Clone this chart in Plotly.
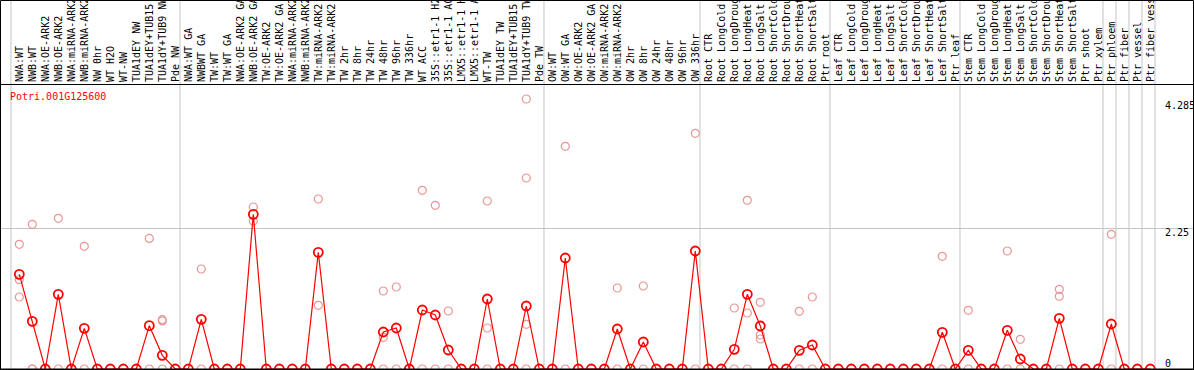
import plotly.graph_objects as go

# ---------------- data ----------------
categories = [
    "NWA:WT", "NWB:WT", "NWA:OE-ARK2", "NWB:OE-ARK2", "NWA:miRNA-ARK2", "NWB:miRNA-ARK2",
    "NW 0hr", "WT H2O", "WT-NW", "TUA1dEY NW", "TUA1dEY+TUB15", "TUA1dY+TUB9 NW", "Pde NW",
    "NWA:WT GA", "NWBWT GA", "TW:WT", "TW:WT GA", "NWA:OE-ARK2 GA", "NWB:OE-ARK2 GA",
    "TW:OE-ARK2", "TW:OE-ARK2 GA", "NWA:miRNA-ARK2", "NWB:miRNA-ARK2", "TW:miRNA-ARK2",
    "TW:miRNA-ARK2", "TW 2hr", "TW 8hr", "TW 24hr", "TW 48hr", "TW 96hr", "TW 336hr", "WT ACC",
    "35S::etr1-1 H2O", "35S::etr1-1 ACC", "LMX5::etr1-1 H2O", "LMX5::etr1-1 ACC", "WT-TW",
    "TUA1dEY TW", "TUA1dEY+TUB15 TW", "TUA1dY+TUB9 TW", "Pde TW",
    "OW:WT", "OW:WT GA", "OW:OE-ARK2", "OW:OE-ARK2 GA", "OW:miRNA-ARK2", "OW:miRNA-ARK2",
    "OW 2hr", "OW 8hr", "OW 24hr", "OW 48hr", "OW 96hr", "OW 336hr",
    "Root CTR", "Root LongCold", "Root LongDrought", "Root LongHeat", "Root LongSalt",
    "Root ShortCold", "Root ShortDrought", "Root ShortHeat", "Root ShortSalt", "Ptr root",
    "Leaf CTR", "Leaf LongCold", "Leaf LongDrought", "Leaf LongHeat", "Leaf LongSalt",
    "Leaf ShortCold", "Leaf ShortDrought", "Leaf ShortHeat", "Leaf ShortSalt", "Ptr leaf",
    "Stem CTR", "Stem LongCold", "Stem LongDrought", "Stem LongHeat", "Stem LongSalt",
    "Stem ShortCold", "Stem ShortDrought", "Stem ShortHeat", "Stem ShortSalt", "Ptr shoot",
    "Ptr xylem", "Ptr phloem", "Ptr fiber", "Ptr vessel", "Ptr fiber vessel",
]

means = [
    1.515, 0.763, 0, 1.195, 0, 0.651, 0, 0, 0, 0, 0.693, 0.219, 0,
    0, 0.795, 0, 0, 0, 2.475, 0, 0, 0, 0, 1.867, 0, 0, 0, 0, 0.592, 0.656, 0,
    0.944, 0.864, 0.304, 0, 0, 1.12, 0, 0, 1.008, 0,
    0, 1.776, 0, 0, 0, 0.64, 0, 0.432, 0, 0, 0, 1.888,
    0, 0, 0.315, 1.195, 0.688, 0, 0, 0.299, 0.384, 0,
    0, 0, 0, 0, 0, 0, 0, 0, 0.587, 0,
    0.299, 0, 0, 0.619, 0.16, 0, 0, 0.811, 0, 0, 0,
    0.72, 0, 0, 0,
]

replicates = [
    [1.995, 1.43, 1.152], [2.315, 0, 0], [], [2.41, 0], [], [1.963, 0], [], [], [], [],
    [2.09, 0], [0.79, 0.77, 0], [],
    [], [1.6, 0], [], [], [], [2.592, 2.368], [], [], [], [], [2.72, 1.019], [], [], [], [],
    [1.248, 0.507, 0], [1.312, 0], [], [2.859, 0], [2.619, 0], [0.928, 0], [], [],
    [2.688, 0.656, 0], [], [], [4.32, 3.056, 0.715, 0], [],
    [], [3.563, 0], [], [], [], [1.296, 0], [], [1.328, 0], [], [], [], [3.771, 0],
    [], [], [0.976, 0], [2.699, 0.896, 0], [1.067, 0.544, 0.48], [], [], [0.923, 0],
    [1.152, 0], [],
    [], [], [], [], [], [], [], [], [1.803, 0], [],
    [0.939, 0], [], [], [1.888, 0], [0.475, 0], [], [], [1.275, 1.163, 0], [], [], [],
    [2.155, 0], [], [], [],
]

group_starts = [0, 13, 41, 53, 63, 73, 84, 85, 86, 87, 88]
gene_id = "Potri.001G125600"
y_labels = [4.285, 2.25, 0]

# ---------------- layout geometry ----------------
W, H = 1194, 370
HEADER = 85
MB, ML, MR = 1, 1, 1
plot_h = H - HEADER - MB
plot_w = W - ML - MR
px_per_unit = 62.5
col_px = 13.0
first_px = 19.3
x_lo = (ML - first_px) / col_px
x_hi = x_lo + plot_w / col_px
y_hi = plot_h / px_per_unit
header_top = 1 + (HEADER - 0.5) / plot_h

idx = list(range(len(categories)))
rep_x = [i for i, reps in enumerate(replicates) for _ in reps]
rep_y = [v for reps in replicates for v in reps]

mono = "DejaVu Sans Mono"
fig = go.Figure()
fig.add_trace(go.Scatter(
    x=rep_x, y=rep_y, mode="markers", cliponaxis=False, hoverinfo="skip",
    marker=dict(symbol="circle-open", size=8, color="rgb(236,150,150)", line=dict(width=1.2)),
))
fig.add_trace(go.Scatter(
    x=idx, y=means, mode="lines+markers", cliponaxis=False,
    line=dict(color="#ff0000", width=1.2),
    marker=dict(symbol="circle-open", size=9, color="#ff0000", line=dict(width=1.8)),
))

shapes = []
for k in group_starts:
    shapes.append(dict(type="line", xref="x", yref="paper", x0=k - 0.64, x1=k - 0.64,
                       y0=0, y1=header_top, line=dict(color="#c4c4c4", width=1), layer="below"))
shapes.append(dict(type="rect", xref="paper", yref="paper", x0=-0.5 / plot_w, x1=1 + 0.5 / plot_w,
                   y0=0, y1=header_top, line=dict(color="black", width=1)))

annotations = [dict(text=gene_id, xref="paper", yref="paper", x=7 / plot_w, y=1 - 4 / plot_h,
                    xanchor="left", yanchor="top", showarrow=False,
                    font=dict(family=mono, size=10, color="#ff0000"))]
for v in y_labels:
    annotations.append(dict(text=f"{v:g}", xref="x", yref="y", x=len(categories), y=v,
                            xanchor="left", yanchor="bottom" if v == 0 else "top",
                            yshift=-2 if v == 0 else 3,
                            showarrow=False, font=dict(family=mono, size=10, color="black")))

fig.update_layout(
    template="none",
    width=W, height=H,
    margin=dict(l=ML, r=MR, t=HEADER, b=MB, pad=0),
    paper_bgcolor="white", plot_bgcolor="white",
    showlegend=False,
    shapes=shapes, annotations=annotations,
    xaxis=dict(range=[x_lo, x_hi], side="top", tickmode="array", tickvals=idx,
               ticktext=categories, tickangle=-90, ticks="", showgrid=False, zeroline=False,
               showline=True, mirror=True, linecolor="black", linewidth=1, automargin=False,
               tickfont=dict(family=mono, size=10, color="black")),
    yaxis=dict(range=[0, y_hi], tickmode="array", tickvals=[2.25], showticklabels=False,
               showgrid=True, gridcolor="#c4c4c4", gridwidth=1, zeroline=False,
               showline=True, mirror=True, linecolor="black", linewidth=1, automargin=False),
)

fig.write_html(
    "out.html",
    config={"displayModeBar": False, "staticPlot": True},
    post_script="document.body.style.margin='0px';document.body.style.overflow='hidden';",
)
